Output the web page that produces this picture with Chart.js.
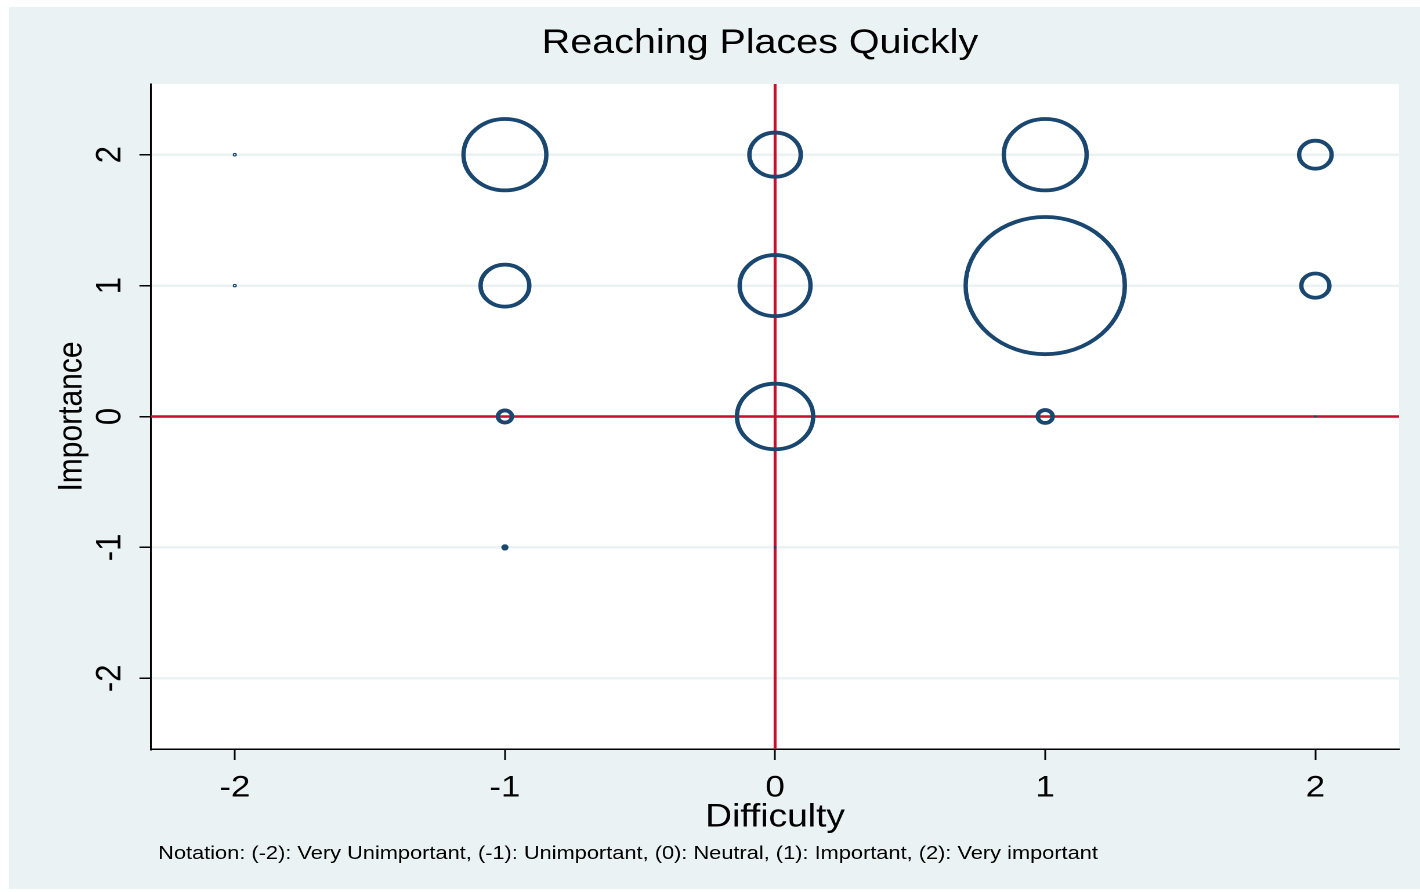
<!DOCTYPE html>
<html>
<head>
<meta charset="utf-8">
<title>Reaching Places Quickly</title>
<script src="https://cdn.jsdelivr.net/npm/chart.js@4.4.0/dist/chart.umd.min.js"></script>
<style>
  html, body { margin: 0; padding: 0; background: #fff; }
</style>
</head>
<body>
<!-- the original graph is stretched sideways, so the canvas is drawn narrower and widened by css -->
<canvas id="chart" width="1216" height="882"
        style="position:absolute;left:9px;top:7px;width:1411px;height:882px"></canvas>
<script>
const chartTitle = "Reaching Places Quickly";
const xTitle = "Difficulty";
const yTitle = "Importance";
const noteText = "Notation: (-2): Very Unimportant, (-1): Unimportant, (0): Neutral, (1): Important, (2): Very important";

const xTicks = [-2, -1, 0, 1, 2];
const yTicks = [-2, -1, 0, 1, 2];

// one entry per bubble
const difficulty = [-2, -2, -1, -1, -1, -1, 0, 0, 0, 0, 1, 1, 1, 2, 2, 2];
const importance = [2, 1, 2, 1, 0, -1, 2, 1, 0, -1, 2, 1, 0, 2, 1, 0];
const weight = [0.03, 0.03, 26, 9, 0.75, 0.05, 10, 19, 22, 0.01, 26, 96, 0.85, 4, 3, 0.01];

// reference lines
const refX = 0;
const refY = 0;

const navy = 'rgb(26,71,111)';
const red = 'rgb(200,16,46)';
const bg = '#EAF2F3';
const font = "'Liberation Sans', Arial, sans-serif";

const bubbles = difficulty.map((d, i) => ({
    x: d,
    y: importance[i],
    r: 7 * Math.sqrt(weight[i])
}));

// big rings get the thick outline, the very small markers look like dots
const ringWidth = r => (r >= 3 ? 3.8 : r >= 1.4 ? 2 * r : 1.1);

const decor = {
    id: 'decor',
    beforeDraw(chart) {
        const { ctx, chartArea: a } = chart;
        ctx.save();
        ctx.fillStyle = bg;
        ctx.fillRect(0, 0, chart.width, chart.height);
        ctx.fillStyle = '#fff';
        ctx.fillRect(a.left, a.top, a.right - a.left, a.bottom - a.top);
        ctx.restore();
    },
    beforeDatasetsDraw(chart) {
        const { ctx, chartArea: a, scales } = chart;
        const px = scales.x.getPixelForValue(refX);
        const py = scales.y.getPixelForValue(refY);
        ctx.save();
        ctx.strokeStyle = red;
        ctx.lineWidth = 2.5;
        ctx.beginPath();
        ctx.moveTo(px, a.top);
        ctx.lineTo(px, a.bottom);
        ctx.moveTo(a.left, py);
        ctx.lineTo(a.right, py);
        ctx.stroke();
        ctx.restore();
    },
    afterDraw(chart) {
        const { ctx, chartArea: a } = chart;
        ctx.save();
        ctx.fillStyle = '#000';
        ctx.textBaseline = 'alphabetic';
        ctx.textAlign = 'center';
        ctx.font = `34px ${font}`;
        ctx.fillText(chartTitle, (a.left + a.right) / 2 - 13, 46);
        ctx.textAlign = 'left';
        ctx.font = `18.8px ${font}`;
        ctx.fillText(noteText, 128.5, 852);
        ctx.restore();
    }
};

new Chart(document.getElementById('chart'), {
    type: 'bubble',
    data: {
        datasets: [{
            data: bubbles,
            backgroundColor: 'rgba(0,0,0,0)',
            borderColor: navy,
            borderWidth: ctx => (ctx.raw ? ringWidth(ctx.raw.r) : 1)
        }]
    },
    options: {
        responsive: false,
        devicePixelRatio: 2,
        animation: false,
        events: [],
        layout: { autoPadding: false, padding: { left: 0, right: 18, top: 77, bottom: 45 } },
        plugins: {
            legend: { display: false },
            tooltip: { enabled: false }
        },
        scales: {
            x: {
                type: 'linear',
                min: -2.31,
                max: 2.31,
                afterBuildTicks: s => { s.ticks = xTicks.map(v => ({ value: v })); },
                afterFit: s => {
                    s.height = 95;
                    s.paddingLeft = 0;
                    s.paddingRight = 0;
                },
                grid: { drawOnChartArea: false, tickLength: 11, tickColor: '#000', tickWidth: 1.5 },
                border: { color: '#000', width: 1.5 },
                ticks: {
                    color: '#000',
                    font: { family: font, size: 30 },
                    padding: 10,
                    maxRotation: 0,
                    callback: v => String(v)
                },
                title: {
                    display: true,
                    text: xTitle,
                    color: '#000',
                    font: { family: font, size: 32 },
                    padding: { top: 0, bottom: 7 }
                }
            },
            y: {
                type: 'linear',
                min: -2.54,
                max: 2.54,
                afterBuildTicks: s => { s.ticks = yTicks.map(v => ({ value: v })); },
                afterFit: s => {
                    s.width = 122.4;
                    s.paddingTop = 0;
                    s.paddingBottom = 0;
                },
                grid: { color: bg, lineWidth: 2.5, tickLength: 10, tickColor: '#000', tickWidth: 1.5 },
                border: { color: '#000', width: 1.5 },
                ticks: {
                    color: '#000',
                    font: { family: font, size: 31 },
                    padding: 11,
                    minRotation: 90,
                    maxRotation: 90,
                    crossAlign: 'center',
                    callback: v => String(v)
                },
                title: {
                    display: true,
                    text: yTitle,
                    color: '#000',
                    font: { family: font, size: 30 },
                    padding: { top: 36, bottom: 0 }
                }
            }
        }
    },
    plugins: [decor]
});
</script>
</body>
</html>
